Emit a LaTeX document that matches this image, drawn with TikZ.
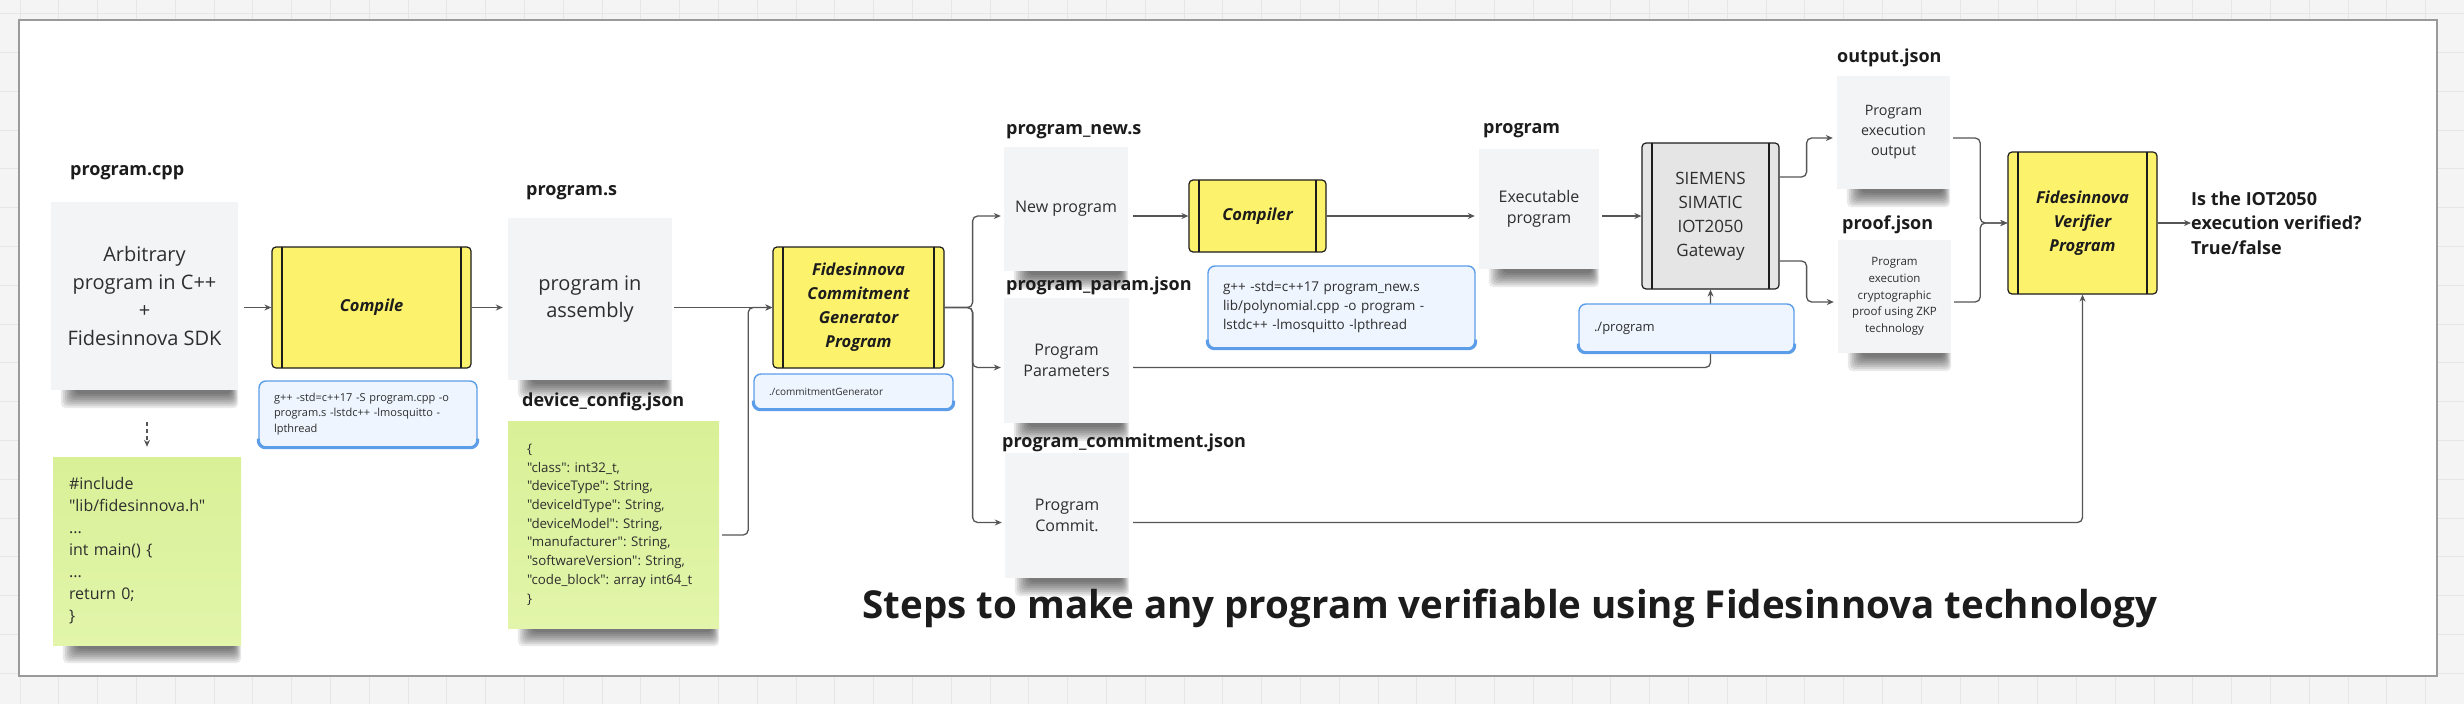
\documentclass[tikz,border=0pt]{standalone}
\usepackage{fontspec}
\setmainfont{Open Sans}
\newfontfamily\jsonfont{Open Sans}
\usepackage{xcolor}
\usetikzlibrary{arrows.meta, calc}

\definecolor{boardgray}{HTML}{F4F4F4}
\definecolor{gridgray}{HTML}{E6E6E6}
\definecolor{framegray}{HTML}{9A9A9A}
\definecolor{stickygray}{HTML}{F3F4F6}
\definecolor{greentop}{HTML}{D9F097}
\definecolor{greenbot}{HTML}{E2F5AA}
\definecolor{procyellow}{HTML}{FDF26C}
\definecolor{gatewaygray}{HTML}{E5E5E5}
\definecolor{cmdfill}{HTML}{EEF5FF}
\definecolor{cmdblue}{HTML}{5B9DE8}
\definecolor{linegray}{HTML}{555555}
\definecolor{inkblack}{HTML}{1C1C1C}
\definecolor{notetext}{HTML}{2E2E2E}

\pgfdeclarelayer{board}
\pgfdeclarelayer{shade}
\pgfsetlayers{board,shade,main}

\tikzset{
  sticky/.style={fill=stickygray, inner sep=0pt, align=center, text=notetext},
  greennote/.style={top color=greentop, bottom color=greenbot, inner sep=0pt, align=left, text=notetext},
  process/.style={fill=procyellow, draw=inkblack, line width=1.2pt, rounded corners=4pt, inner sep=0pt,
    align=center, text=inkblack, font=\fontsize{16.5}{24}\selectfont\bfseries\itshape,
    path picture={
      \draw[inkblack, line width=1.2pt]
        ([xshift=10pt]path picture bounding box.north west) -- ([xshift=10pt]path picture bounding box.south west)
        ([xshift=-10pt]path picture bounding box.north east) -- ([xshift=-10pt]path picture bounding box.south east);}},
  cmdbox/.style={fill=cmdfill, draw=cmdblue, line width=1.4pt, rounded corners=7pt, inner xsep=15pt,
    inner ysep=0pt, align=left, text=notetext},
  filelabel/.style={anchor=west, inner sep=0pt, text=inkblack, font=\fontsize{18}{22}\selectfont\bfseries},
  conn/.style={draw=linegray, line width=1.3pt, rounded corners=5pt, -{Stealth[length=7pt,width=6pt]}},
}

\begin{document}
\frenchspacing
\begin{tikzpicture}[x=1pt, y=-1pt]
\useasboundingbox (0,0) rectangle (2464,704);

% board with grid
\begin{pgfonlayer}{board}
\fill[boardgray] (0,0) rectangle (2464,704);
\foreach \gx in {0,...,63}
  \draw[gridgray, line width=1pt] ({20+38.8*\gx},0) -- ++(0,704);
\foreach \gy in {0,...,17}
  \draw[gridgray, line width=1pt] (0,{13.6+38.8*\gy}) -- ++(2464,0);
\filldraw[fill=white, draw=framegray, line width=2pt] (19,20) rectangle (2437,676);
\end{pgfonlayer}

% source side
\node[filelabel] (cpplabel) at (70,173) {program.cpp};
\node[sticky, minimum width=187pt, minimum height=188pt, font=\fontsize{20}{28}\selectfont] (cppnote) at (144.5,296) {Arbitrary\\program in C++\\+\\Fidesinnova SDK};
\node[greennote, text width=156pt, inner xsep=16pt, minimum height=188pt, font=\jsonfont\fontsize{16}{22}\selectfont] (sdknote) at (147,551) {\#include\\"lib/fidesinnova.h"\\...\\int main() \{\\...\\return 0;\\\}};
\node[process, minimum width=199pt, minimum height=121pt] (compile) at (371.5,307.5) {Compile};
\node[cmdbox, text width=188pt, minimum height=66pt, font=\fontsize{11}{15.5}\selectfont] (compilecmd) at (368,414) {g++ -std=c++17 -S program.cpp -o\\program.s -lstdc++ -lmosquitto -\\lpthread};

\node[filelabel] (asmlabel) at (526,193) {program.s};
\node[sticky, minimum width=164pt, minimum height=162pt, font=\fontsize{20}{27}\selectfont] (asmnote) at (590,299) {program in\\assembly};
\node[filelabel] (cfglabel) at (522,402) {device\_config.json};
\node[greennote, text width=173pt, inner xsep=19pt, minimum height=207pt, font=\jsonfont\fontsize{13.3}{18.7}\selectfont] (cfgnote) at (613.5,524.5) {\{\\"class": int32\_t,\\"deviceType": String,\\"deviceIdType": String,\\"deviceModel": String,\\"manufacturer": String,\\"softwareVersion": String,\\"code\_block": array int64\_t\\\}};

\node[process, minimum width=171pt, minimum height=121pt] (fcg) at (858.5,307.5) {Fidesinnova\\Commitment\\Generator\\Program};
\node[cmdbox, text width=169pt, minimum height=35pt, font=\fontsize{10}{14}\selectfont] (fcgcmd) at (853.5,391.5) {./commitmentGenerator};

% generator outputs
\node[filelabel] (newlabel) at (1006,132) {program\_new.s};
\node[sticky, minimum width=124pt, minimum height=124pt, font=\fontsize{16}{21}\selectfont] (newnote) at (1066,209) {New program};
\node[filelabel] (paramlabel) at (1006,286) {program\_param.json};
\node[sticky, minimum width=125pt, minimum height=125pt, font=\fontsize{16}{21}\selectfont] (paramnote) at (1066.5,360.5) {Program\\Parameters};
\node[filelabel] (commitlabel) at (1002,443) {program\_commitment.json};
\node[sticky, minimum width=124pt, minimum height=125pt, font=\fontsize{16}{21}\selectfont] (commitnote) at (1067,515.5) {Program\\Commit.};

\node[process, minimum width=137pt, minimum height=72pt] (compiler) at (1257.5,216) {Compiler};
\node[cmdbox, text width=237pt, minimum height=82pt, font=\fontsize{13.5}{19}\selectfont] (compilercmd) at (1341.5,307) {g++ -std=c++17 program\_new.s\\lib/polynomial.cpp -o program -\\lstdc++ -lmosquitto -lpthread};

\node[filelabel] (execlabel) at (1483,131) {program};
\node[sticky, minimum width=120pt, minimum height=120pt, font=\fontsize{16}{21}\selectfont] (execnote) at (1539,209) {Executable\\program};
\node[process, fill=gatewaygray, minimum width=137pt, minimum height=146pt, font=\fontsize{17}{24}\selectfont, text=notetext] (gateway) at (1710.5,216) {SIEMENS\\SIMATIC\\IOT2050\\Gateway};

% device outputs and verifier
\node[filelabel] (outlabel) at (1837,58) {output.json};
\node[sticky, minimum width=113pt, minimum height=113pt, font=\fontsize{14.3}{20}\selectfont] (outnote) at (1893.5,132.5) {Program\\execution\\output};
\node[filelabel] (prooflabel) at (1842,225) {proof.json};
\node[sticky, minimum width=113pt, minimum height=113pt, font=\fontsize{11.5}{16.7}\selectfont] (proofnote) at (1894.5,296.5) {Program\\execution\\cryptographic\\proof using ZKP\\technology};
\node[process, minimum width=149pt, minimum height=142pt] (verifier) at (2082.5,223) {Fidesinnova\\Verifier\\Program};
\node[anchor=west, inner sep=0pt, align=left, text=inkblack, font=\fontsize{18}{24.5}\selectfont\bfseries] (result) at (2191,223) {Is the IOT2050\\execution verified?\\True/false};

\node[text=inkblack, font=\fontsize{38.5}{42}\selectfont\bfseries] (title) at (1510,608) {Steps to make any program verifiable using Fidesinnova technology};

% sticky shadows
\begin{pgfonlayer}{shade}
\foreach \n in {cppnote,asmnote,sdknote,cfgnote,newnote,paramnote,commitnote,execnote,outnote,proofnote}{
  \foreach \k in {0,...,7}
    \fill[black, opacity=0.085, rounded corners=5pt]
      ([xshift={(10+2*\k)*1pt}, yshift=5pt]\n.south west) rectangle ([xshift={-\k*1pt}, yshift={-(18-2*\k)*1pt}]\n.south east);
}
\end{pgfonlayer}

% connectors
\draw[conn, shorten <=6pt] (cppnote.east |- compile.west) -- (compile.west);
\draw[conn, dashed, dash pattern=on 4pt off 3pt, shorten <=32pt, shorten >=10pt] (cppnote.south -| sdknote.north) -- (sdknote.north);
\draw[conn, shorten >=5pt] (compile.east) -- (asmnote.west |- compile.east);
\draw[conn, shorten <=2pt] (asmnote.east |- fcg.west) -- (fcg.west);
\draw[conn, shorten <=3pt] ([yshift=-10.5pt]cfgnote.east) -- ++(29,0) |- (fcg.west);
\draw[conn, shorten >=3pt] (fcg.east) -- ++(28,0) |- ([yshift=-7pt]newnote.west);
\draw[conn, shorten >=3pt] (fcg.east) -- ++(28,0) |- ([yshift=-7pt]paramnote.west);
\draw[conn, shorten >=3pt] (fcg.east) -- ++(28,0) |- ([yshift=-7pt]commitnote.west);
\draw[conn, shorten <=5pt] (newnote.east |- compiler.west) -- (compiler.west);
\draw[conn, shorten >=4pt] (compiler.east) -- (execnote.west |- compiler.east);
\draw[conn, shorten <=3pt] (execnote.east |- gateway.west) -- (gateway.west);
\draw[conn, shorten >=4pt] ([yshift=39pt]gateway.east) -- ++(27,0) |- ([yshift=-5.5pt]outnote.west);
\draw[conn, shorten >=4pt] ([yshift=-45pt]gateway.east) -- ++(27,0) |- ([yshift=-5.5pt]proofnote.west);
\draw[conn, shorten <=3pt] ([yshift=-5.5pt]outnote.east) -- ++(30,0) |- (verifier.west);
\draw[conn, shorten <=3pt] ([yshift=-5.5pt]proofnote.east) -- ++(29,0) |- (verifier.west);
\draw[conn] (verifier.east) -- (result.west);
\draw[conn, shorten <=4pt] ([yshift=-7pt]paramnote.east) -| (gateway.south);
\draw[conn, shorten <=4pt] ([yshift=-7pt]commitnote.east) -| (verifier.south);

\node[cmdbox, text width=185pt, minimum height=48pt, font=\fontsize{13}{17}\selectfont] (runcmd) at (1686.5,328) {./program};

\foreach \c in {compilecmd,fcgcmd,compilercmd,runcmd}
  \draw[cmdblue, line width=3pt, rounded corners=7pt] ([yshift=9pt]\c.south west) -- (\c.south west) -- (\c.south east) -- ([yshift=9pt]\c.south east);
\end{tikzpicture}
\end{document}
